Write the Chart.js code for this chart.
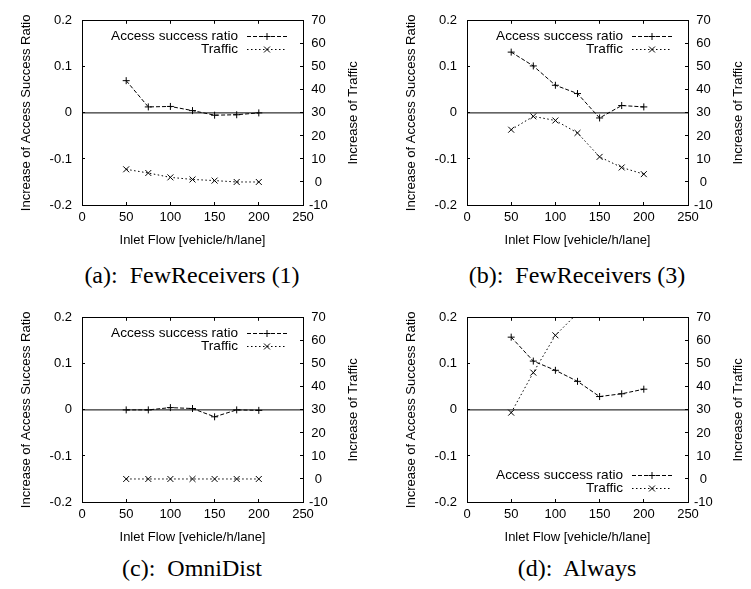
<!DOCTYPE html>
<html>
<head>
<meta charset="utf-8">
<script src="https://cdn.jsdelivr.net/npm/chart.js@4.4.0/dist/chart.umd.min.js"></script>
<style>
  body { margin: 0; background: #fff; width: 751px; height: 589px; position: relative; overflow: hidden; }
  canvas { position: absolute; }
  .cap { position: absolute; width: 384px; text-align: center; color: #000;
         font-family: "Liberation Serif", "DejaVu Serif", serif; font-size: 24px; line-height: 24px; white-space: pre; }
</style>
</head>
<body>
<canvas id="chartA" width="375" height="250" style="left:0;top:0"></canvas>
<canvas id="chartB" width="366" height="250" style="left:385px;top:0"></canvas>
<canvas id="chartC" width="375" height="250" style="left:0;top:297px"></canvas>
<canvas id="chartD" width="366" height="250" style="left:385px;top:297px"></canvas>
<div class="cap" style="left:0;top:263px">(a):  FewReceivers (1)</div>
<div class="cap" style="left:385px;top:263px">(b):  FewReceivers (3)</div>
<div class="cap" style="left:0;top:556px">(c):  OmniDist</div>
<div class="cap" style="left:385px;top:556px">(d):  Always</div>
<script>
var inletFlow = [50, 75, 100, 125, 150, 175, 200];
var xTicks = [0, 50, 100, 150, 200, 250];
var ratioTicks = [-0.2, -0.1, 0, 0.1, 0.2];
var trafficTicks = [-10, 0, 10, 20, 30, 40, 50, 60, 70];

// (a) FewReceivers (1)
var ratioFew1 = [0.070, 0.013, 0.014, 0.005, -0.005, -0.004, 0.000];
var trafficFew1 = [5.5, 3.9, 2.0, 1.1, 0.6, 0.0, 0.0];
// (b) FewReceivers (3)
var ratioFew3 = [0.132, 0.102, 0.060, 0.042, -0.011, 0.016, 0.013];
var trafficFew3 = [22.7, 28.5, 26.7, 21.3, 10.9, 6.3, 3.4];
// (c) OmniDist
var ratioOmni = [0.000, 0.000, 0.005, 0.003, -0.015, 0.000, -0.001];
var trafficOmni = [0.0, 0.0, 0.0, 0.0, 0.0, 0.0, 0.0];
// (d) Always (traffic leaves the plot after 100)
var ratioAlways = [0.158, 0.106, 0.086, 0.062, 0.029, 0.035, 0.045];
var trafficAlways = [28.8, 46.2, 62.4, 72, 78, 84, 90];

var FONT = '"Liberation Sans", Arial, sans-serif';
Chart.defaults.font.family = FONT;
Chart.defaults.font.size = 13;
Chart.defaults.color = '#000';

function fixTicks(values) {
  return function (scale) {
    scale.ticks = values.map(function (v) { return { value: v }; });
  };
}
function fmt(v) { return String(v); }

function gnuplotKey(at) {
  return {
    id: 'gnuplotKey',
    afterDatasetsDraw: function (chart) {
      var ctx = chart.ctx, area = chart.chartArea;
      var rows = at === 'top' ? [area.top + 15, area.top + 28] : [area.bottom - 27, area.bottom - 14];
      [0, 1].forEach(function (i) {
        var ds = chart.data.datasets[i];
        var y = rows[i];
        ctx.save();
        ctx.fillStyle = '#000';
        ctx.font = '13.6px ' + FONT;
        ctx.textAlign = 'right';
        ctx.textBaseline = 'middle';
        ctx.fillText(ds.label, area.right - 65, y);
        ctx.strokeStyle = '#000';
        ctx.lineWidth = 1;
        ctx.setLineDash(ds.borderDash);
        ctx.beginPath();
        ctx.moveTo(area.right - 56, Math.round(y) + 0.5);
        ctx.lineTo(area.right - 16, Math.round(y) + 0.5);
        ctx.stroke();
        ctx.setLineDash([]);
        Chart.helpers.drawPoint(ctx, { pointStyle: ds.pointStyle, radius: ds.pointRadius, rotation: 0, borderWidth: 1 },
          area.right - 36, Math.round(y) + 0.5);
        ctx.restore();
      });
    }
  };
}

var rightTitle = {
  id: 'rightTitle',
  afterDraw: function (chart) {
    var ctx = chart.ctx, area = chart.chartArea;
    ctx.save();
    ctx.translate(area.right + 50, (area.top + area.bottom) / 2);
    ctx.rotate(-Math.PI / 2);
    ctx.fillStyle = '#000';
    ctx.font = '13px ' + FONT;
    ctx.textAlign = 'center';
    ctx.textBaseline = 'middle';
    ctx.fillText('Increase of Traffic', 0, 0);
    ctx.restore();
  }
};

function makeChart(id, ratio, traffic, keyAt, rightWidth, topGap) {
  var ratioPts = inletFlow.map(function (x, i) { return { x: x, y: ratio[i] }; });
  var trafficPts = inletFlow.map(function (x, i) { return { x: x, y: traffic[i] }; });
  var grid = { drawOnChartArea: false, tickLength: -3, color: '#000', lineWidth: 1 };
  var border = { color: '#000', width: 1 };
  new Chart(document.getElementById(id), {
    type: 'line',
    data: {
      datasets: [
        { label: 'Access success ratio', data: ratioPts, yAxisID: 'y', xAxisID: 'x',
          borderColor: '#000', borderWidth: 1, borderDash: [4, 2], fill: false, tension: 0,
          pointStyle: 'cross', pointRadius: 3.5, pointBorderColor: '#000', pointBorderWidth: 1 },
        { label: 'Traffic', data: trafficPts, yAxisID: 'y2', xAxisID: 'x',
          borderColor: '#000', borderWidth: 1, borderDash: [1.5, 2.5], fill: false, tension: 0,
          pointStyle: 'crossRot', pointRadius: 4.2, pointBorderColor: '#000', pointBorderWidth: 1 },
        { label: 'zero', data: [{ x: xTicks[0], y: 0 }, { x: xTicks[xTicks.length - 1], y: 0 }],
          yAxisID: 'y', xAxisID: 'x', borderColor: '#000', borderWidth: 1, pointRadius: 0, fill: false }
      ]
    },
    options: {
      responsive: false,
      animation: false,
      events: [],
      layout: { padding: 0 },
      plugins: { legend: { display: false }, tooltip: { enabled: false } },
      scales: {
        x: {
          type: 'linear', position: 'bottom', min: 0, max: 250,
          afterBuildTicks: fixTicks(xTicks),
          afterFit: function (s) { s.height = 45; },
          grid: grid, border: border,
          ticks: { padding: 8, maxRotation: 0, autoSkip: false, callback: fmt },
          title: { display: true, text: 'Inlet Flow [vehicle/h/lane]', padding: { top: 0, bottom: 2 } }
        },
        x2: {
          type: 'linear', position: 'top', min: 0, max: 250,
          afterBuildTicks: fixTicks(xTicks),
          afterFit: function (s) { s.height = topGap; },
          grid: grid, border: border,
          ticks: { display: false }
        },
        y: {
          type: 'linear', position: 'left', min: -0.2, max: 0.2,
          afterBuildTicks: fixTicks(ratioTicks),
          afterFit: function (s) { s.width = 82; },
          grid: grid, border: border,
          ticks: { padding: 13, callback: fmt },
          title: { display: true, text: 'Increase of Access Success Ratio', padding: { top: 19, bottom: 0 } }
        },
        y2: {
          type: 'linear', position: 'right', min: -10, max: 70,
          afterBuildTicks: fixTicks(trafficTicks),
          afterFit: function (s) { s.width = rightWidth; },
          grid: grid, border: border,
          ticks: { padding: 9, crossAlign: 'center', callback: fmt }
        }
      }
    },
    plugins: [gnuplotKey(keyAt), rightTitle]
  });
}

makeChart('chartA', ratioFew1, trafficFew1, 'top', 72, 15);
makeChart('chartB', ratioFew3, trafficFew3, 'top', 63, 15);
makeChart('chartC', ratioOmni, trafficOmni, 'top', 72, 16);
makeChart('chartD', ratioAlways, trafficAlways, 'bottom', 63, 16);
</script>
</body>
</html>
